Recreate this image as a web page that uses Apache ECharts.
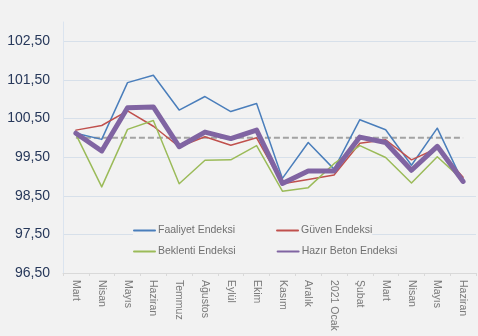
<!DOCTYPE html>
<html>
<head>
<meta charset="utf-8">
<script src="https://cdn.jsdelivr.net/npm/echarts@6/dist/echarts.min.js"></script>
<style>
  html, body { margin: 0; padding: 0; background: #f2f2f2; }
  #chart { width: 478px; height: 336px; }
</style>
</head>
<body>
<div id="chart"></div>
<script>
// Monthly index series (base = 100)
const months = ['Mart', 'Nisan', 'Mayıs', 'Haziran', 'Temmuz', 'Ağustos', 'Eylül', 'Ekim',
  'Kasım', 'Aralık', '2021 Ocak', 'Şubat', 'Mart', 'Nisan', 'Mayıs', 'Haziran'];

const faaliyet = [100.12, 99.96, 101.43, 101.62, 100.72, 101.07, 100.68, 100.89,
  98.95, 99.88, 99.19, 100.47, 100.21, 99.29, 100.25, 98.84];
const guven = [100.20, 100.32, 100.70, 100.30, 99.77, 100.03, 99.81, 100.00,
  98.81, 98.92, 99.04, 99.86, 99.95, 99.43, 99.73, 98.98];
const beklenti = [100.09, 98.73, 100.22, 100.45, 98.81, 99.42, 99.43, 99.80,
  98.62, 98.71, 99.33, 99.80, 99.49, 98.83, 99.51, 98.90];
const hazirBeton = [100.12, 99.66, 100.78, 100.80, 99.77, 100.15, 99.98, 100.20,
  98.82, 99.14, 99.14, 100.02, 99.88, 99.16, 99.78, 98.87];
const baseLine = [100, 100, 100, 100, 100, 100, 100, 100,
  100, 100, 100, 100, 100, 100, 100, 100];

const legendRow1 = ['Faaliyet Endeksi', 'Güven Endeksi'];
const legendRow2 = ['Beklenti Endeksi', 'Hazır Beton Endeksi'];

const yMin = 96.5, yMax = 103, yStep = 1;

const font = 'Liberation Sans, Arial, sans-serif';
const gridColor = '#d7e0ea';

const chart = echarts.init(document.getElementById('chart'), null, { renderer: 'canvas' });

function lineSeries(name, data, color, width, z) {
  return {
    name: name,
    type: 'line',
    data: data,
    symbol: 'none',
    z: z,
    lineStyle: { color: color, width: width, join: 'round', cap: 'round' },
    itemStyle: { color: color }
  };
}

// one legend per row so both columns line up
function legendRow(names, top, gap) {
  return {
    left: 133,
    top: top,
    orient: 'horizontal',
    padding: 0,
    itemWidth: 21,
    itemHeight: 14,
    itemGap: gap,
    backgroundColor: '#f2f2f2',
    itemStyle: { opacity: 0 },
    data: names,
    textStyle: {
      color: '#707070',
      fontFamily: font,
      fontSize: 10.5,
      padding: [0, 0, 0, -2]
    }
  };
}

chart.setOption({
  backgroundColor: '#f2f2f2',
  animation: false,
  grid: { left: 63, right: 2, top: 22, bottom: 63, containLabel: false },
  xAxis: {
    type: 'category',
    data: months,
    boundaryGap: true,
    axisLine: { show: true, lineStyle: { color: '#d9d9d9', width: 1 } },
    axisTick: { show: true, length: 3, lineStyle: { color: '#d9d9d9' } },
    axisLabel: {
      interval: 0,
      rotate: -90,
      margin: 7,
      color: '#7a7a7a',
      fontFamily: font,
      fontSize: 10.5
    },
    splitLine: { show: false }
  },
  yAxis: {
    type: 'value',
    min: yMin,
    max: yMax,
    interval: yStep,
    axisLine: { show: true, lineStyle: { color: '#dbe4ef', width: 1 } },
    axisTick: { show: false },
    axisLabel: {
      showMaxLabel: false,
      margin: 13,
      color: '#27385a',
      fontFamily: font,
      fontSize: 14,
      formatter: v => v.toFixed(2).replace('.', ',')
    },
    splitLine: {
      show: true,
      showMinLine: true,
      showMaxLine: false,
      lineStyle: { color: gridColor, width: 1 }
    }
  },
  legend: [legendRow(legendRow1, 225, 41), legendRow(legendRow2, 246, 41)],
  series: [
    {
      name: 'ref',
      type: 'line',
      data: baseLine,
      symbol: 'none',
      silent: true,
      z: 1,
      lineStyle: { color: '#a3a3a3', width: 2, type: [6, 3] }
    },
    lineSeries('Faaliyet Endeksi', faaliyet, '#4a7ebb', 1.5, 2),
    lineSeries('Güven Endeksi', guven, '#c0504d', 1.5, 3),
    lineSeries('Beklenti Endeksi', beklenti, '#9bbb59', 1.5, 4),
    lineSeries('Hazır Beton Endeksi', hazirBeton, '#8064a2', 5, 5)
  ]
});
</script>
</body>
</html>
